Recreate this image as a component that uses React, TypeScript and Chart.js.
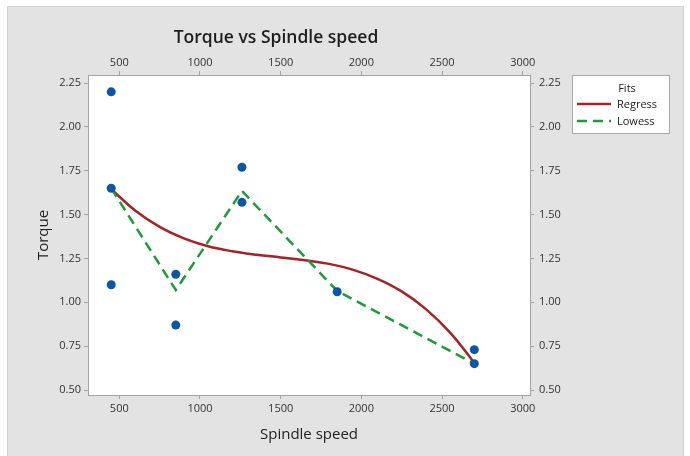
import { useEffect, useRef } from "react";
import { Chart, registerables } from "chart.js";

Chart.register(...registerables);

// ---- data ----
const SPEED = [450, 450, 450, 850, 850, 1260, 1260, 1850, 2700, 2700];
const TORQUE = [2.2, 1.65, 1.1, 1.16, 0.87, 1.77, 1.57, 1.06, 0.73, 0.65];

const REGRESS_X = [450, 600, 750, 900, 1050, 1200, 1350, 1500, 1650, 1800, 1950, 2100, 2250, 2400, 2550, 2700];
const REGRESS_Y = [1.645, 1.522, 1.43, 1.365, 1.32, 1.291, 1.271, 1.256, 1.24, 1.219, 1.185, 1.134, 1.062, 0.961, 0.827, 0.655];

const LOWESS_X = [450, 850, 1260, 1850, 2700];
const LOWESS_Y = [1.65, 1.07, 1.635, 1.065, 0.65];

const X_TICKS = [500, 1000, 1500, 2000, 2500, 3000];
const Y_TICKS = [0.5, 0.75, 1.0, 1.25, 1.5, 1.75, 2.0, 2.25];

const TITLE = "Torque vs Spindle speed";
const X_LABEL = "Spindle speed";
const Y_LABEL = "Torque";
const LEGEND_TITLE = "Fits";
const SERIES_NAMES = ["Regress", "Lowess"];

const COLORS = {
  point: "#0a57a8",
  regress: "#a32428",
  lowess: "#1f9a3a",
  panel: "#e3e3e3",
  axis: "#a3a3a3",
  text: "#333333",
};

const FONT = "'Open Sans', 'Noto Sans', sans-serif";

const decorPlugin = {
  id: "decor",
  beforeDraw(chart: any) {
    const { ctx, chartArea } = chart;
    ctx.save();
    ctx.fillStyle = "#ffffff";
    ctx.fillRect(0, 0, chart.width, chart.height);
    ctx.fillStyle = COLORS.panel;
    ctx.fillRect(8, 7, 675, 449);
    ctx.strokeStyle = "#d2d2d2";
    ctx.lineWidth = 1;
    ctx.strokeRect(7.5, 6.5, 676, 452);
    ctx.fillStyle = "#ffffff";
    ctx.fillRect(chartArea.left, chartArea.top, chartArea.right - chartArea.left, chartArea.bottom - chartArea.top);
    ctx.restore();
  },
  afterDraw(chart: any) {
    const { ctx } = chart;
    ctx.save();
    // title
    ctx.fillStyle = "#1e1e1e";
    ctx.font = `600 17.5px ${FONT}`;
    ctx.textAlign = "center";
    ctx.textBaseline = "middle";
    ctx.fillText(TITLE, 276, 38);
    // legend
    const lx = 572, ly = 75, lw = 97, lh = 58;
    ctx.fillStyle = "#ffffff";
    ctx.fillRect(lx, ly, lw, lh);
    ctx.strokeStyle = "#a8a8a8";
    ctx.lineWidth = 1;
    ctx.strokeRect(lx + 0.5, ly + 0.5, lw, lh);
    ctx.fillStyle = "#222222";
    ctx.font = `11px ${FONT}`;
    ctx.textAlign = "center";
    ctx.fillText(LEGEND_TITLE, 627, 89);
    ctx.textAlign = "left";
    ctx.fillText(SERIES_NAMES[0], 617, 105);
    ctx.fillText(SERIES_NAMES[1], 617, 122);
    ctx.lineWidth = 2.5;
    ctx.strokeStyle = COLORS.regress;
    ctx.beginPath();
    ctx.moveTo(577, 104);
    ctx.lineTo(611, 104);
    ctx.stroke();
    ctx.strokeStyle = COLORS.lowess;
    ctx.setLineDash([10, 6]);
    ctx.beginPath();
    ctx.moveTo(577, 121);
    ctx.lineTo(611, 121);
    ctx.stroke();
    ctx.restore();
  },
};

function fixSize(prop: "width" | "height", size: number) {
  return (scale: any) => {
    scale[prop] = size;
  };
}

export default function App() {
  const ref = useRef<HTMLCanvasElement>(null);

  useEffect(() => {
    if (!ref.current) return;
    const tickFont = { family: FONT, size: 11 };
    const grid = {
      display: true,
      drawOnChartArea: false,
      drawTicks: true,
      tickLength: 4,
      color: COLORS.axis,
    };
    const border = { display: true, color: COLORS.axis, width: 1 };
    const setXTicks = (scale: any) => {
      scale.ticks = X_TICKS.map((v) => ({ value: v }));
    };
    const setYTicks = (scale: any) => {
      scale.ticks = Y_TICKS.map((v) => ({ value: v }));
    };
    const xMin = 306, xMax = 3045, yMin = 0.4715, yMax = 2.296;

    const chart = new Chart(ref.current, {
      type: "scatter",
      data: {
        datasets: [
          {
            label: "Torque",
            data: SPEED.map((x, i) => ({ x, y: TORQUE[i] })),
            backgroundColor: COLORS.point,
            borderColor: COLORS.point,
            pointRadius: 4.5,
            pointBorderWidth: 0,
            showLine: false,
            order: 0,
          },
          {
            label: SERIES_NAMES[0],
            data: REGRESS_X.map((x, i) => ({ x, y: REGRESS_Y[i] })),
            showLine: true,
            borderColor: COLORS.regress,
            borderWidth: 2.5,
            pointRadius: 0,
            tension: 0.4,
            order: 2,
          },
          {
            label: SERIES_NAMES[1],
            data: LOWESS_X.map((x, i) => ({ x, y: LOWESS_Y[i] })),
            showLine: true,
            borderColor: COLORS.lowess,
            borderWidth: 2.5,
            borderDash: [10, 6],
            pointRadius: 0,
            tension: 0,
            order: 1,
          },
        ],
      },
      options: {
        animation: false,
        responsive: false,
        maintainAspectRatio: false,
        layout: { padding: 0 },
        plugins: {
          legend: { display: false },
          title: { display: false },
          tooltip: { enabled: false },
        },
        scales: {
          x: {
            type: "linear",
            position: "bottom",
            min: xMin,
            max: xMax,
            afterBuildTicks: setXTicks,
            afterFit: fixSize("height", 61),
            grid,
            border,
            ticks: { font: tickFont, color: COLORS.text, padding: 3, maxRotation: 0, callback: (v: any) => String(v) },
            title: {
              display: true,
              text: X_LABEL,
              font: { family: FONT, size: 15 },
              color: "#222222",
              padding: { top: 0, bottom: 12 },
            },
          },
          x2: {
            type: "linear",
            position: "top",
            min: xMin,
            max: xMax,
            afterBuildTicks: setXTicks,
            afterFit: fixSize("height", 75),
            grid,
            border,
            ticks: { font: tickFont, color: COLORS.text, padding: 2, maxRotation: 0, callback: (v: any) => String(v) },
          },
          y: {
            type: "linear",
            position: "left",
            min: yMin,
            max: yMax,
            afterBuildTicks: setYTicks,
            afterFit: fixSize("width", 88),
            grid,
            border,
            ticks: { font: tickFont, color: COLORS.text, padding: 3, callback: (v: any) => Number(v).toFixed(2) },
            title: {
              display: true,
              text: Y_LABEL,
              font: { family: FONT, size: 15 },
              color: "#222222",
              padding: { top: 35, bottom: 0 },
            },
          },
          y2: {
            type: "linear",
            position: "right",
            min: yMin,
            max: yMax,
            afterBuildTicks: setYTicks,
            afterFit: fixSize("width", 160),
            grid,
            border,
            ticks: { font: tickFont, color: COLORS.text, padding: 5, callback: (v: any) => Number(v).toFixed(2) },
          },
        },
      } as any,
      plugins: [decorPlugin],
    });
    return () => chart.destroy();
  }, []);

  return (
    <div style={{ position: "absolute", left: 0, top: 0, width: 690, height: 456 }}>
      <canvas ref={ref} width={690} height={456} />
    </div>
  );
}
